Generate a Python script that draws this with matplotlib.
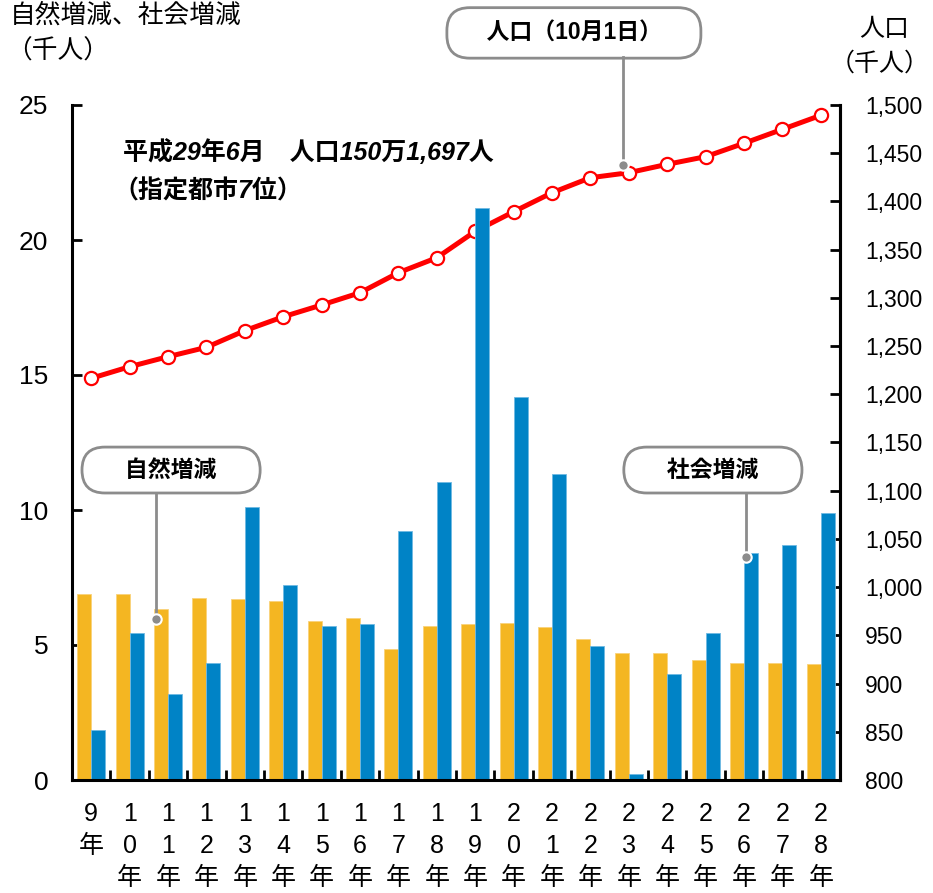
import numpy as np
import matplotlib
matplotlib.use('Agg')
import matplotlib.pyplot as plt
from matplotlib.ticker import FuncFormatter, MultipleLocator

plt.rcParams['font.family'] = ['Liberation Sans', 'Noto Sans CJK JP']

# 年次 (平成)
years = [9, 10, 11, 12, 13, 14, 15, 16, 17, 18, 19, 20, 21, 22, 23, 24, 25, 26, 27, 28]
# 自然増減 (千人)
natural = [6.89, 6.90, 6.32, 6.73, 6.70, 6.63, 5.89, 6.01, 4.85, 5.71,
           5.79, 5.83, 5.67, 5.22, 4.72, 4.72, 4.44, 4.32, 4.32, 4.31]
# 社会増減 (千人)
social = [1.85, 5.43, 3.17, 4.32, 10.12, 7.22, 5.71, 5.77, 9.22, 11.03,
          21.19, 14.20, 11.32, 4.95, 0.22, 3.91, 5.43, 8.42, 8.69, 9.88]
# 人口 10月1日 (千人)
population = [1216.6, 1228.6, 1239.0, 1248.7, 1266.0, 1280.4, 1292.6, 1305.3, 1326.1, 1341.6,
              1369.0, 1389.3, 1409.0, 1424.6, 1429.8, 1438.5, 1446.4, 1460.3, 1474.8, 1489.3]

xlabels = ['\n'.join(list(str(y)) + ['年']) for y in years]

W, H = 933, 893
fig = plt.figure(figsize=(W / 100, H / 100), dpi=100)
ax = fig.add_axes([72 / W, 113 / H, 768 / W, 675 / H])

x = np.arange(len(years))
bw = 0.365
ax.bar(x - bw / 2, natural, bw, color='#F4B622', edgecolor='#F9D27A', linewidth=0.6, zorder=2)
ax.bar(x + bw / 2, social, bw, color='#0083C6', edgecolor='#6FB9E3', linewidth=0.6, zorder=2)

ax.set_xlim(-0.5, len(years) - 0.5)
ax.set_ylim(0, 25)
ax.yaxis.set_major_locator(MultipleLocator(5))
ax.set_xticks(x)
ax.set_xticklabels(xlabels, linespacing=1.42)
ax.set_xticks(np.arange(0.5, len(years) - 1, 1), minor=True)

for s in ['left', 'bottom', 'right']:
    ax.spines[s].set_linewidth(2.2)
ax.spines['top'].set_visible(False)
ax.tick_params(axis='y', direction='in', length=7, width=2, labelsize=19, pad=17)
ax.tick_params(axis='x', which='major', length=0, labelsize=18, pad=16)
ax.tick_params(axis='x', which='minor', direction='in', length=7, width=2)

ax2 = ax.twinx()
ax2.set_ylim(800, 1500)
ax2.yaxis.set_major_locator(MultipleLocator(50))
ax2.yaxis.set_major_formatter(FuncFormatter(lambda v, p: f'{int(v):,}'))
ax2.tick_params(axis='y', direction='in', length=7, width=2, labelsize=16.5, pad=18)
ax2.spines['top'].set_visible(False)
ax2.spines['right'].set_linewidth(2.2)
ax2.plot(x, population, color='#FF0000', lw=3.6, marker='o', ms=9.5,
         mfc='white', mec='#FF0000', mew=1.6, zorder=3)

# axis titles
fig.text(10 / W, 1 - 15 / H, '自然増減、社会増減', fontsize=18.5, va='center', ha='left')
fig.text(6 / W, 1 - 51 / H, '（千人）', fontsize=18.5, va='center', ha='left')
fig.text(884 / W, 1 - 29 / H, '人口', fontsize=18, va='center', ha='center')
fig.text(930 / W, 1 - 64 / H, '（千人）', fontsize=18, va='center', ha='right')

# note
ax.text(0.83, 23.26, '平成29年6月　人口150万1,697人', fontsize=18, fontweight='bold',
        style='italic', va='center', ha='left', zorder=5)
ax.text(0.57, 21.81, '（指定都市7位）', fontsize=18, fontweight='bold',
        style='italic', va='center', ha='left', zorder=5)

# callouts
grey = '#8C8C8C'
callouts = [
    ('    人口（10月1日）    ', 12.57, 27.67, 13.85, 26.78, 22.78, 0.6),
    ('     自然増減     ', 2.08, 11.48, 1.69, 10.63, 5.96, 0.5),
    ('     社会増減     ', 16.19, 11.48, 17.04, 10.59, 8.27, 0.5),
]
for label, tx, ty, dx, ly, dy, pad in callouts:
    box = dict(boxstyle=f'round,pad={pad},rounding_size=1.0', fc='white', ec=grey, lw=2)
    ax.text(tx, ty, label, fontsize=16.5, fontweight='bold', ha='center', va='center',
            bbox=box, zorder=6, clip_on=False)
    ax.plot([dx, dx], [ly, dy], color=grey, lw=2, zorder=6, clip_on=False)
    ax.plot([dx], [dy], 'o', color=grey, ms=7.5, mec='white', mew=1.5, zorder=7, clip_on=False)

ax.set_zorder(ax2.get_zorder() + 1)
ax.patch.set_visible(False)

fig.savefig('out.png', dpi=100)
